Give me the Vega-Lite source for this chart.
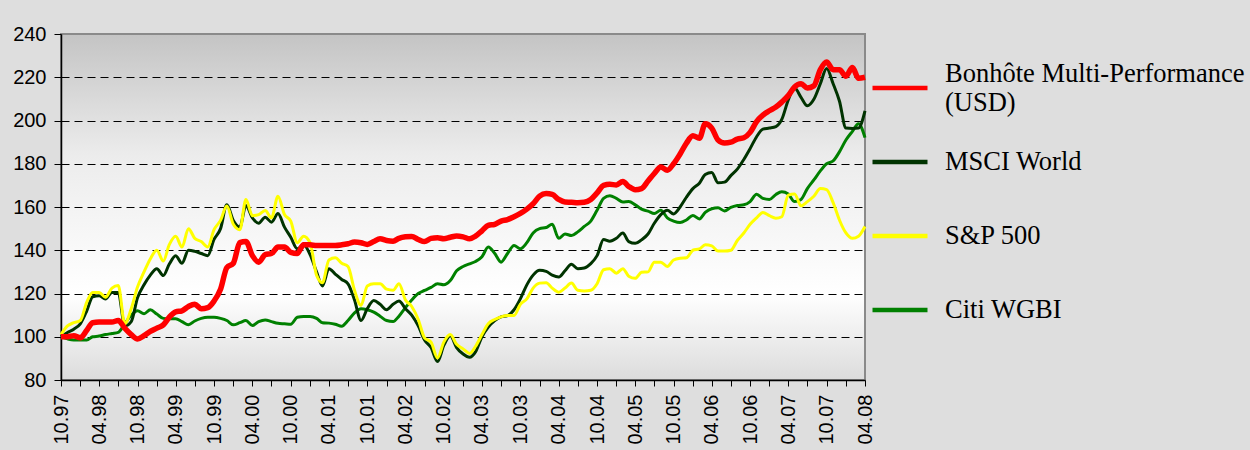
{
  "$schema": "https://vega.github.io/schema/vega-lite/v6.json",
  "width": 804,
  "height": 346,
  "autosize": {"type": "none"},
  "padding": {"left": 61, "top": 34, "right": 385, "bottom": 70},
  "background": "#dedede",
  "view": {
    "fill": {"gradient": "linear", "x1": 0, "y1": 0, "x2": 0, "y2": 1, "stops": [{"offset": 0, "color": "#c4c4c4"}, {"offset": 0.35, "color": "#ececec"}, {"offset": 0.75, "color": "#ffffff"}, {"offset": 1, "color": "#dcdcdc"}]},
    "stroke": "#8a8a8a",
    "strokeWidth": 2
  },
  "data": {"values": [
    {"date": "1997-10-01", "bmp": 100, "msci": 100, "sp500": 101, "wgbi": 100},
    {"date": "1997-11-01", "bmp": 100, "msci": 102, "sp500": 105, "wgbi": 99},
    {"date": "1997-12-01", "bmp": 100.5, "msci": 103.5, "sp500": 106.5, "wgbi": 98.5},
    {"date": "1998-01-01", "bmp": 99.5, "msci": 106, "sp500": 107.5, "wgbi": 98.5},
    {"date": "1998-02-01", "bmp": 103, "msci": 112, "sp500": 116, "wgbi": 98.5},
    {"date": "1998-03-01", "bmp": 106.5, "msci": 118.5, "sp500": 120.5, "wgbi": 100},
    {"date": "1998-04-01", "bmp": 106.8, "msci": 119, "sp500": 120.5, "wgbi": 100.3},
    {"date": "1998-05-01", "bmp": 106.8, "msci": 117.5, "sp500": 118.3, "wgbi": 101},
    {"date": "1998-06-01", "bmp": 106.8, "msci": 120.5, "sp500": 122.5, "wgbi": 101.5},
    {"date": "1998-07-01", "bmp": 107.5, "msci": 120.5, "sp500": 123.7, "wgbi": 102},
    {"date": "1998-08-01", "bmp": 104, "msci": 105, "sp500": 106, "wgbi": 106},
    {"date": "1998-09-01", "bmp": 101, "msci": 107, "sp500": 113, "wgbi": 110},
    {"date": "1998-10-01", "bmp": 99, "msci": 118, "sp500": 123, "wgbi": 112},
    {"date": "1998-11-01", "bmp": 100.5, "msci": 124, "sp500": 130, "wgbi": 110.6},
    {"date": "1998-12-01", "bmp": 102.5, "msci": 128.5, "sp500": 136, "wgbi": 112.5},
    {"date": "1999-01-01", "bmp": 104, "msci": 131.5, "sp500": 140, "wgbi": 110.5},
    {"date": "1999-02-01", "bmp": 105.5, "msci": 128.3, "sp500": 135, "wgbi": 108.5},
    {"date": "1999-03-01", "bmp": 109, "msci": 133.5, "sp500": 142.5, "wgbi": 108.3},
    {"date": "1999-04-01", "bmp": 111.5, "msci": 137.5, "sp500": 146.5, "wgbi": 108.3},
    {"date": "1999-05-01", "bmp": 112, "msci": 134, "sp500": 141.5, "wgbi": 107},
    {"date": "1999-06-01", "bmp": 114, "msci": 140, "sp500": 150, "wgbi": 105.5},
    {"date": "1999-07-01", "bmp": 115, "msci": 139.5, "sp500": 145.5, "wgbi": 107.3},
    {"date": "1999-08-01", "bmp": 113, "msci": 138.5, "sp500": 144, "wgbi": 108.5},
    {"date": "1999-09-01", "bmp": 113.5, "msci": 137.5, "sp500": 141.5, "wgbi": 109},
    {"date": "1999-10-01", "bmp": 116.5, "msci": 145, "sp500": 149.5, "wgbi": 109},
    {"date": "1999-11-01", "bmp": 122, "msci": 150, "sp500": 153.8, "wgbi": 108.5},
    {"date": "1999-12-01", "bmp": 132, "msci": 161, "sp500": 160.5, "wgbi": 107.5},
    {"date": "2000-01-01", "bmp": 134, "msci": 153.8, "sp500": 152, "wgbi": 105.5},
    {"date": "2000-02-01", "bmp": 143.5, "msci": 150.7, "sp500": 149.5, "wgbi": 106.5},
    {"date": "2000-03-01", "bmp": 144, "msci": 160.7, "sp500": 163.5, "wgbi": 107.5},
    {"date": "2000-04-01", "bmp": 137.5, "msci": 155, "sp500": 156, "wgbi": 105.2},
    {"date": "2000-05-01", "bmp": 134.5, "msci": 152.5, "sp500": 156.5, "wgbi": 107},
    {"date": "2000-06-01", "bmp": 138, "msci": 155.3, "sp500": 158.4, "wgbi": 107.8},
    {"date": "2000-07-01", "bmp": 138.5, "msci": 153, "sp500": 155, "wgbi": 107},
    {"date": "2000-08-01", "bmp": 141.5, "msci": 157, "sp500": 165, "wgbi": 106.2},
    {"date": "2000-09-01", "bmp": 141.5, "msci": 150.7, "sp500": 156.5, "wgbi": 106},
    {"date": "2000-10-01", "bmp": 139, "msci": 146, "sp500": 153.5, "wgbi": 105.8},
    {"date": "2000-11-01", "bmp": 138.5, "msci": 140.7, "sp500": 143.5, "wgbi": 109},
    {"date": "2000-12-01", "bmp": 142.5, "msci": 142.5, "sp500": 146.5, "wgbi": 109.4},
    {"date": "2001-01-01", "bmp": 142.5, "msci": 138, "sp500": 143.5, "wgbi": 109.4},
    {"date": "2001-02-01", "bmp": 142.2, "msci": 130, "sp500": 128.5, "wgbi": 108.5},
    {"date": "2001-03-01", "bmp": 142.2, "msci": 123.5, "sp500": 125, "wgbi": 106.5},
    {"date": "2001-04-01", "bmp": 142.2, "msci": 131.5, "sp500": 135.5, "wgbi": 106.3},
    {"date": "2001-05-01", "bmp": 142.2, "msci": 129, "sp500": 136.5, "wgbi": 105.8},
    {"date": "2001-06-01", "bmp": 142.5, "msci": 126.5, "sp500": 134, "wgbi": 104.9},
    {"date": "2001-07-01", "bmp": 143, "msci": 124.5, "sp500": 132.5, "wgbi": 107.5},
    {"date": "2001-08-01", "bmp": 143.8, "msci": 117, "sp500": 121.5, "wgbi": 111},
    {"date": "2001-09-01", "bmp": 143.5, "msci": 107.5, "sp500": 114.5, "wgbi": 113},
    {"date": "2001-10-01", "bmp": 142.7, "msci": 113, "sp500": 123.5, "wgbi": 112.5},
    {"date": "2001-11-01", "bmp": 144, "msci": 116.8, "sp500": 124.5, "wgbi": 111.4},
    {"date": "2001-12-01", "bmp": 145.3, "msci": 115, "sp500": 124.5, "wgbi": 109.5},
    {"date": "2002-01-01", "bmp": 144.5, "msci": 112.5, "sp500": 122, "wgbi": 107.5},
    {"date": "2002-02-01", "bmp": 144.2, "msci": 115, "sp500": 121.5, "wgbi": 107},
    {"date": "2002-03-01", "bmp": 145.5, "msci": 116.5, "sp500": 124.5, "wgbi": 109.5},
    {"date": "2002-04-01", "bmp": 146.2, "msci": 113, "sp500": 117, "wgbi": 113.5},
    {"date": "2002-05-01", "bmp": 146.4, "msci": 110, "sp500": 114, "wgbi": 117},
    {"date": "2002-06-01", "bmp": 145, "msci": 105, "sp500": 108, "wgbi": 120},
    {"date": "2002-07-01", "bmp": 144, "msci": 98.5, "sp500": 99.5, "wgbi": 121.4},
    {"date": "2002-08-01", "bmp": 145.5, "msci": 95, "sp500": 97.5, "wgbi": 122.8},
    {"date": "2002-09-01", "bmp": 145.8, "msci": 88.5, "sp500": 90.2, "wgbi": 124.5},
    {"date": "2002-10-01", "bmp": 145.3, "msci": 96, "sp500": 97.5, "wgbi": 124},
    {"date": "2002-11-01", "bmp": 146, "msci": 100.5, "sp500": 101, "wgbi": 126},
    {"date": "2002-12-01", "bmp": 146.6, "msci": 95, "sp500": 96.5, "wgbi": 130.5},
    {"date": "2003-01-01", "bmp": 146.2, "msci": 92, "sp500": 94.4, "wgbi": 132.5},
    {"date": "2003-02-01", "bmp": 145.3, "msci": 90.5, "sp500": 92.3, "wgbi": 133.7},
    {"date": "2003-03-01", "bmp": 146.5, "msci": 93, "sp500": 95.5, "wgbi": 134.8},
    {"date": "2003-04-01", "bmp": 149, "msci": 100, "sp500": 101, "wgbi": 137},
    {"date": "2003-05-01", "bmp": 151.5, "msci": 104.5, "sp500": 106, "wgbi": 141.5},
    {"date": "2003-06-01", "bmp": 152, "msci": 107.5, "sp500": 108, "wgbi": 138.5},
    {"date": "2003-07-01", "bmp": 153.5, "msci": 109.2, "sp500": 109.2, "wgbi": 134.5},
    {"date": "2003-08-01", "bmp": 154.2, "msci": 109.8, "sp500": 109.8, "wgbi": 138.5},
    {"date": "2003-09-01", "bmp": 155.5, "msci": 112.5, "sp500": 109.8, "wgbi": 142.2},
    {"date": "2003-10-01", "bmp": 157, "msci": 117.5, "sp500": 115, "wgbi": 140.7},
    {"date": "2003-11-01", "bmp": 159, "msci": 124, "sp500": 117.5, "wgbi": 143.5},
    {"date": "2003-12-01", "bmp": 161.5, "msci": 128.5, "sp500": 122.5, "wgbi": 148},
    {"date": "2004-01-01", "bmp": 165, "msci": 130.7, "sp500": 124.8, "wgbi": 150},
    {"date": "2004-02-01", "bmp": 166.2, "msci": 130.2, "sp500": 125, "wgbi": 150.5},
    {"date": "2004-03-01", "bmp": 165.8, "msci": 128.5, "sp500": 122.5, "wgbi": 152},
    {"date": "2004-04-01", "bmp": 163.5, "msci": 127.6, "sp500": 120.6, "wgbi": 145.5},
    {"date": "2004-05-01", "bmp": 162.3, "msci": 130.5, "sp500": 122.5, "wgbi": 147.5},
    {"date": "2004-06-01", "bmp": 162.2, "msci": 133.5, "sp500": 124.8, "wgbi": 146.8},
    {"date": "2004-07-01", "bmp": 162, "msci": 131.5, "sp500": 121.5, "wgbi": 148.5},
    {"date": "2004-08-01", "bmp": 162.2, "msci": 131.8, "sp500": 121.2, "wgbi": 151},
    {"date": "2004-09-01", "bmp": 163.5, "msci": 133.8, "sp500": 121.5, "wgbi": 153.5},
    {"date": "2004-10-01", "bmp": 166.5, "msci": 137.5, "sp500": 124.5, "wgbi": 158.5},
    {"date": "2004-11-01", "bmp": 170, "msci": 145, "sp500": 131, "wgbi": 164},
    {"date": "2004-12-01", "bmp": 170.5, "msci": 144.2, "sp500": 131.5, "wgbi": 165.2},
    {"date": "2005-01-01", "bmp": 170.2, "msci": 145.5, "sp500": 129.4, "wgbi": 164},
    {"date": "2005-02-01", "bmp": 171.8, "msci": 148, "sp500": 131.5, "wgbi": 162.3},
    {"date": "2005-03-01", "bmp": 169.5, "msci": 144, "sp500": 128, "wgbi": 162.5},
    {"date": "2005-04-01", "bmp": 168, "msci": 143.2, "sp500": 127, "wgbi": 161},
    {"date": "2005-05-01", "bmp": 168.5, "msci": 144.8, "sp500": 129.8, "wgbi": 159},
    {"date": "2005-06-01", "bmp": 172, "msci": 147.5, "sp500": 130, "wgbi": 158.1},
    {"date": "2005-07-01", "bmp": 175.5, "msci": 152.5, "sp500": 134.5, "wgbi": 157},
    {"date": "2005-08-01", "bmp": 178.5, "msci": 156.5, "sp500": 134.5, "wgbi": 158.5},
    {"date": "2005-09-01", "bmp": 177, "msci": 158.5, "sp500": 132.5, "wgbi": 155},
    {"date": "2005-10-01", "bmp": 180, "msci": 156.8, "sp500": 135.5, "wgbi": 153.5},
    {"date": "2005-11-01", "bmp": 184.5, "msci": 160, "sp500": 136.3, "wgbi": 152.8},
    {"date": "2005-12-01", "bmp": 189.5, "msci": 164.5, "sp500": 136.5, "wgbi": 154},
    {"date": "2006-01-01", "bmp": 193, "msci": 168.5, "sp500": 140, "wgbi": 156.1},
    {"date": "2006-02-01", "bmp": 191.8, "msci": 171, "sp500": 140.6, "wgbi": 154.5},
    {"date": "2006-03-01", "bmp": 198.5, "msci": 175, "sp500": 142.5, "wgbi": 157.5},
    {"date": "2006-04-01", "bmp": 196.5, "msci": 176, "sp500": 142, "wgbi": 159.2},
    {"date": "2006-05-01", "bmp": 191, "msci": 171.2, "sp500": 139.6, "wgbi": 159.6},
    {"date": "2006-06-01", "bmp": 189.6, "msci": 171.5, "sp500": 139.6, "wgbi": 158.2},
    {"date": "2006-07-01", "bmp": 190, "msci": 174.5, "sp500": 140, "wgbi": 159.8},
    {"date": "2006-08-01", "bmp": 191.4, "msci": 177.5, "sp500": 144.5, "wgbi": 160.7},
    {"date": "2006-09-01", "bmp": 192, "msci": 182, "sp500": 148, "wgbi": 161},
    {"date": "2006-10-01", "bmp": 194.5, "msci": 187, "sp500": 152, "wgbi": 162.5},
    {"date": "2006-11-01", "bmp": 199.5, "msci": 192.5, "sp500": 155, "wgbi": 165.9},
    {"date": "2006-12-01", "bmp": 202.5, "msci": 196, "sp500": 157.5, "wgbi": 164},
    {"date": "2007-01-01", "bmp": 204.5, "msci": 196.5, "sp500": 156, "wgbi": 163.5},
    {"date": "2007-02-01", "bmp": 206.2, "msci": 197.2, "sp500": 154.8, "wgbi": 165.8},
    {"date": "2007-03-01", "bmp": 208.5, "msci": 200.5, "sp500": 155.5, "wgbi": 167},
    {"date": "2007-04-01", "bmp": 211.5, "msci": 209.5, "sp500": 165.5, "wgbi": 166},
    {"date": "2007-05-01", "bmp": 215.5, "msci": 215, "sp500": 166, "wgbi": 162.5},
    {"date": "2007-06-01", "bmp": 217, "msci": 210.7, "sp500": 160.6, "wgbi": 163.5},
    {"date": "2007-07-01", "bmp": 215, "msci": 206.8, "sp500": 162.5, "wgbi": 168.5},
    {"date": "2007-08-01", "bmp": 216, "msci": 209.8, "sp500": 165, "wgbi": 172.5},
    {"date": "2007-09-01", "bmp": 223.5, "msci": 217, "sp500": 168.5, "wgbi": 176.7},
    {"date": "2007-10-01", "bmp": 227, "msci": 224, "sp500": 168, "wgbi": 180},
    {"date": "2007-11-01", "bmp": 223.5, "msci": 217, "sp500": 162, "wgbi": 181.3},
    {"date": "2007-12-01", "bmp": 223.5, "msci": 209, "sp500": 154, "wgbi": 185.5},
    {"date": "2008-01-01", "bmp": 220.5, "msci": 196.5, "sp500": 148, "wgbi": 191},
    {"date": "2008-02-01", "bmp": 224.5, "msci": 196.3, "sp500": 145.5, "wgbi": 195},
    {"date": "2008-03-01", "bmp": 219.5, "msci": 196.5, "sp500": 146.5, "wgbi": 198.5},
    {"date": "2008-04-01", "bmp": 220, "msci": 204.5, "sp500": 151, "wgbi": 192.1}
  ]},
  "transform": [{"fold": ["wgbi", "msci", "sp500", "bmp"], "as": ["series", "value"]}],
  "mark": {"type": "line", "interpolate": "monotone"},
  "encoding": {
    "x": {
      "field": "date", "type": "temporal",
      "scale": {"type": "utc", "nice": false},
      "axis": {
        "title": null,
        "tickCount": {"interval": "month", "step": 3},
        "labelExpr": "utcmonth(datum.value) % 6 == 3 ? utcFormat(datum.value, '%m.%y') : ''",
        "labelAngle": 270, "labelAlign": "right", "labelBaseline": "middle",
        "labelFont": "Liberation Sans", "labelFontSize": 20, "labelColor": "black",
        "labelPadding": 8, "tickSize": 6, "tickColor": "black", "domainColor": "black", "domainWidth": 1.5,
        "grid": false, "labelOverlap": false, "labelFlush": false, "labelBound": false
      }
    },
    "y": {
      "field": "value", "type": "quantitative",
      "scale": {"domain": [80, 240], "nice": false, "zero": false},
      "axis": {
        "title": null,
        "values": [80, 100, 120, 140, 160, 180, 200, 220, 240],
        "grid": true,
        "gridColor": {"condition": {"test": "datum.value == 240", "value": "rgba(0,0,0,0)"}, "value": "black"},
        "gridDash": [8, 5], "gridWidth": 1,
        "labelFont": "Liberation Sans", "labelFontSize": 20, "labelColor": "black",
        "labelPadding": 8, "tickSize": 7, "tickColor": "black", "domainColor": "black", "domainWidth": 1.5
      }
    },
    "color": {
      "field": "series", "type": "nominal",
      "scale": {"domain": ["bmp", "msci", "sp500", "wgbi"], "range": ["#ff0000", "#003300", "#ffff00", "#008000"]},
      "legend": {
        "title": null, "orient": "none", "legendX": 809, "legendY": 24,
        "symbolType": "stroke", "symbolSize": 3025, "symbolStrokeWidth": 4.5,
        "labelFont": "Liberation Serif", "labelFontSize": 26.5, "labelColor": "black",
        "labelOffset": 15, "rowPadding": 16, "labelLimit": 400, "gridAlign": "all",
        "labelExpr": "datum.value == 'bmp' ? ['Bonhôte Multi-Performance', '(USD)'] : datum.value == 'msci' ? 'MSCI World' : datum.value == 'sp500' ? 'S&P 500' : 'Citi WGBI'",
        "encode": {"labels": {"update": {"dy": {"signal": "datum.value == 'bmp' ? -14 : 0"}}}}
      }
    },
    "strokeWidth": {"condition": {"test": "datum.series == 'bmp'", "value": 5.5}, "value": 3}
  }
}
